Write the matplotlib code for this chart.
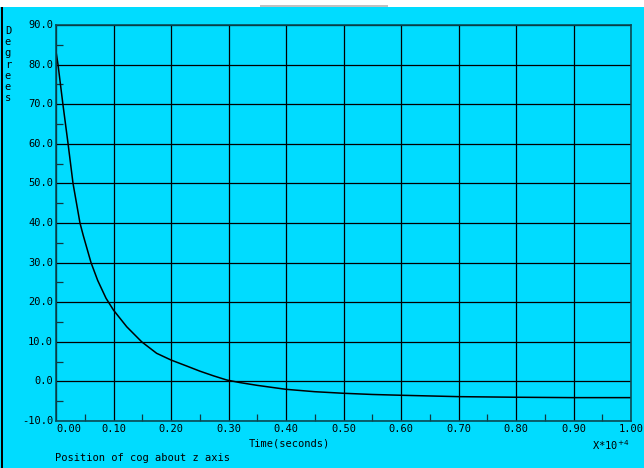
import matplotlib.pyplot as plt
from matplotlib.patches import Rectangle
from matplotlib.ticker import MultipleLocator

# time (x 10^4 s) and angle of cog about z axis (degrees)
time = [0.000, 0.0035, 0.012, 0.021, 0.0296, 0.0417, 0.0475, 0.0609, 0.0725, 0.087,
        0.100, 0.123, 0.149, 0.175, 0.200, 0.227, 0.250, 0.274, 0.297, 0.320,
        0.350, 0.400, 0.450, 0.500, 0.550, 0.600, 0.700, 0.800, 0.900, 1.000]
angle = [83.3, 80.0, 70.0, 60.0, 50.0, 40.0, 36.8, 30.0, 25.5, 21.0,
         18.0, 13.8, 10.0, 7.1, 5.4, 3.9, 2.6, 1.4, 0.35, -0.3,
         -1.0, -2.0, -2.6, -3.0, -3.3, -3.5, -3.85, -4.0, -4.1, -4.1]

x_ticks = [0.0, 0.1, 0.2, 0.3, 0.4, 0.5, 0.6, 0.7, 0.8, 0.9, 1.0]
y_ticks = [-10, 0, 10, 20, 30, 40, 50, 60, 70, 80, 90]

bg = '#00dcff'
mono = 'DejaVu Sans Mono'
fs = 7.5

fig = plt.figure(figsize=(6.44, 4.68), dpi=100, facecolor=bg)
ax = fig.add_axes([56 / 644, 1 - 421 / 468, 575 / 644, 396 / 468])
ax.set_facecolor(bg)

ax.plot(time, angle, color='black', lw=1.1)

ax.set_xlim(0, 1)
ax.set_ylim(-10, 90)
ax.set_xticks(x_ticks)
ax.set_yticks(y_ticks)
ax.xaxis.set_minor_locator(MultipleLocator(0.05))
ax.yaxis.set_minor_locator(MultipleLocator(5))
ax.grid(True, which='major', color='black', lw=0.9)
ax.tick_params(which='major', length=0)
ax.tick_params(which='minor', direction='in', length=5, width=0.9, color='#103840')
ax.set_xticklabels([])
ax.set_yticklabels([])
for s in ax.spines.values():
    s.set_color('#0a4a55')
    s.set_linewidth(1.2)

# tick labels in the terminal font
for v in x_ticks:
    ha = 'left' if v == 0 else 'center'
    ax.text(v, -3 / 396, f'{v:.2f}', transform=ax.get_xaxis_transform(),
            ha=ha, va='top', family=mono, fontsize=fs)
for v in y_ticks:
    ax.text(-0.005, v, f'{v:.1f}', transform=ax.get_yaxis_transform(),
            ha='right', va='center', family=mono, fontsize=fs)

fig.text(289 / 644, 1 - 443 / 468, 'Time(seconds)', ha='center', va='center',
         family=mono, fontsize=fs)
fig.text(592 / 644, 1 - 445 / 468, r'X*10$^{+4}$', ha='left', va='center',
         family=mono, fontsize=fs)
fig.text(55 / 644, 1 - 458 / 468, 'Position of cog about z axis', ha='left',
         va='center', family=mono, fontsize=fs)
fig.text(8 / 644, 1 - 26 / 468, '\n'.join('Degrees'), ha='center', va='top',
         family=mono, fontsize=fs, linespacing=1.15)

# window frame bits
fig.patches.append(Rectangle((0, 1 - 7 / 468), 1, 7 / 468, transform=fig.transFigure,
                             facecolor='white', edgecolor='none'))
fig.patches.append(Rectangle((260 / 644, 1 - 7 / 468), 128 / 644, 2 / 468,
                             transform=fig.transFigure, facecolor='#c0c0c0',
                             edgecolor='none'))
fig.patches.append(Rectangle((1 / 644, 0), 2 / 644, 1 - 7 / 468,
                             transform=fig.transFigure, facecolor='black',
                             edgecolor='none'))

fig.savefig('out.png', dpi=100, facecolor=bg)
